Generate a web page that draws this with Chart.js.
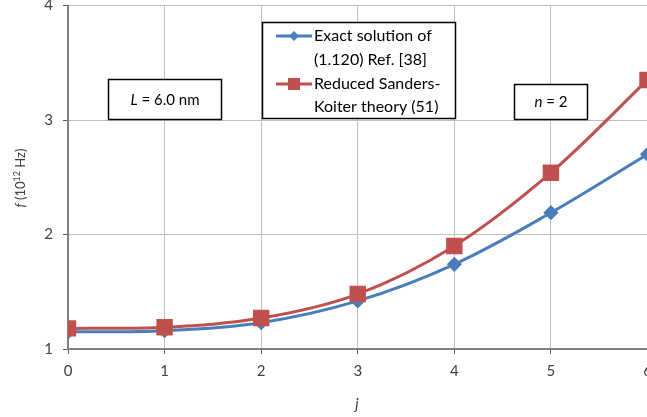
<!DOCTYPE html>
<html>
<head>
<meta charset="utf-8">
<script src="https://cdn.jsdelivr.net/npm/chart.js@4.4.1/dist/chart.umd.min.js"></script>
<style>
html,body{margin:0;padding:0;background:#fff;overflow:hidden;}
#wrap{width:647px;height:417px;position:relative;overflow:hidden;}
#c{position:absolute;left:0;top:-7px;}
</style>
</head>
<body>
<div id="wrap"><canvas id="c" width="660" height="424"></canvas></div>
<script>
const jValues = [0, 1, 2, 3, 4, 5, 6];
const exactSolution = [1.15, 1.16, 1.23, 1.42, 1.74, 2.19, 2.70];
const reducedSK = [1.18, 1.19, 1.27, 1.48, 1.90, 2.54, 3.35];
const seriesLabels = [["Exact solution of", "(1.120) Ref. [38]"], ["Reduced Sanders-", "Koiter theory (51)"]];
const xTicks = [0, 1, 2, 3, 4, 5, 6];
const yTicks = [1, 2, 3, 4];
const boxL = ["L", " = 6.0 nm"];
const boxN = ["n", " = 2"];
const xTitle = "j";
const yTitleParts = ["f", " (10", "12", " Hz)"];

const FONT = "Lato, 'Open Sans', sans-serif";
const BLUE = "#4A7EBB";
const RED = "#C0504D";
const TXT = "#404040";
const OFFY = 7; // canvas is shifted up by this many pixels

const annot = {
  id: 'annot',
  afterDraw(chart) {
    const ctx = chart.ctx;
    ctx.save();
    ctx.translate(0, OFFY);
    function box(x1, y1, x2, y2) {
      ctx.strokeStyle = "#000"; ctx.lineWidth = 1.5;
      ctx.fillStyle = "#fff";
      ctx.fillRect(x1, y1, x2 - x1, y2 - y1);
      ctx.strokeRect(x1, y1, x2 - x1, y2 - y1);
    }
    function mixed(parts, cx, cy, size) {
      ctx.font = "italic " + size + "px " + FONT;
      const w0 = ctx.measureText(parts[0]).width;
      ctx.font = size + "px " + FONT;
      const w1 = ctx.measureText(parts[1]).width;
      let x = cx - (w0 + w1) / 2;
      ctx.fillStyle = "#000"; ctx.textBaseline = "middle"; ctx.textAlign = "left";
      ctx.font = "italic " + size + "px " + FONT;
      ctx.fillText(parts[0], x, cy);
      ctx.font = size + "px " + FONT;
      ctx.fillText(parts[1], x + w0, cy);
    }
    box(108.5, 79.5, 221.5, 119.5);
    mixed(boxL, 165, 100, 15);
    box(514.5, 84.5, 587.5, 119.5);
    mixed(boxN, 551, 102, 15);

    // legend
    box(262.5, 22.5, 455.5, 118.5);
    const ds = chart.data.datasets;
    const rows = [[36, 60], [84, 107]];
    for (let i = 0; i < 2; i++) {
      const d = ds[i];
      const ly = rows[i][0];
      ctx.strokeStyle = d.borderColor; ctx.lineWidth = 3;
      ctx.beginPath(); ctx.moveTo(276, ly); ctx.lineTo(312, ly); ctx.stroke();
      ctx.fillStyle = d.backgroundColor;
      if (d.pointStyle === 'rect') {
        ctx.fillRect(288, ly - 6, 12, 12);
      } else {
        ctx.beginPath();
        ctx.moveTo(294, ly - 5); ctx.lineTo(299, ly); ctx.lineTo(294, ly + 5); ctx.lineTo(289, ly);
        ctx.closePath(); ctx.fill();
      }
      ctx.fillStyle = "#000"; ctx.font = "16px " + FONT;
      ctx.textAlign = "left"; ctx.textBaseline = "middle";
      ctx.fillText(seriesLabels[i][0], 314, rows[i][0]);
      ctx.fillText(seriesLabels[i][1], 314, rows[i][1]);
    }

    // axis titles
    ctx.fillStyle = TXT;
    ctx.font = "italic 15px " + FONT;
    ctx.textAlign = "center"; ctx.textBaseline = "middle";
    ctx.fillText(xTitle, 357, 404);

    ctx.translate(21, 178);
    ctx.rotate(-Math.PI / 2);
    const fs = 13;
    ctx.font = "italic " + fs + "px " + FONT;
    const w0 = ctx.measureText(yTitleParts[0]).width;
    ctx.font = fs + "px " + FONT;
    const w1 = ctx.measureText(yTitleParts[1]).width;
    ctx.font = "9px " + FONT;
    const w2 = ctx.measureText(yTitleParts[2]).width;
    ctx.font = fs + "px " + FONT;
    const w3 = ctx.measureText(yTitleParts[3]).width;
    let x = -(w0 + w1 + w2 + w3) / 2;
    ctx.textAlign = "left"; ctx.textBaseline = "middle";
    ctx.font = "italic " + fs + "px " + FONT; ctx.fillText(yTitleParts[0], x, 0); x += w0;
    ctx.font = fs + "px " + FONT; ctx.fillText(yTitleParts[1], x, 0); x += w1;
    ctx.font = "9px " + FONT; ctx.fillText(yTitleParts[2], x, -4); x += w2;
    ctx.font = fs + "px " + FONT; ctx.fillText(yTitleParts[3], x, 0);
    ctx.restore();
  }
};

new Chart(document.getElementById('c'), {
  type: 'line',
  data: {
    datasets: [
      {
        label: seriesLabels[0].join(' '),
        data: jValues.map((j, i) => ({x: j, y: exactSolution[i]})),
        borderColor: BLUE, backgroundColor: BLUE,
        pointStyle: 'rectRot', pointRadius: 5.5, pointHoverRadius: 5.5,
        borderWidth: 3, tension: 0.35, order: 1
      },
      {
        label: seriesLabels[1].join(' '),
        data: jValues.map((j, i) => ({x: j, y: reducedSK[i]})),
        borderColor: RED, backgroundColor: RED,
        pointStyle: 'rect', pointRadius: 9.5, pointHoverRadius: 9.5,
        borderWidth: 3, tension: 0.35, order: 0
      }
    ]
  },
  options: {
    responsive: false,
    animation: false,
    layout: { padding: { top: 5, right: 0, left: 0, bottom: 0 } },
    plugins: { legend: { display: false }, tooltip: { enabled: false } },
    scales: {
      x: {
        type: 'linear', min: 0, max: 6,
        afterBuildTicks(s) { s.ticks = xTicks.map(v => ({value: v})); },
        afterFit(s) { s.height = 68; s.paddingLeft = 0; s.paddingRight = 0; },
        grid: { color: "#BFBFBF", lineWidth: 1, tickLength: 5, tickColor: "#595959" },
        border: { color: "#7F7F7F", width: 2 },
        ticks: { color: TXT, font: { family: FONT, size: 15 }, padding: 8, maxRotation: 0 }
      },
      y: {
        type: 'linear', min: 1, max: 4,
        afterBuildTicks(s) { s.ticks = yTicks.map(v => ({value: v})); },
        afterFit(s) { s.width = 68; s.paddingTop = 0; s.paddingBottom = 0; },
        grid: { color: "#BFBFBF", lineWidth: 1, tickLength: 5, tickColor: "#595959" },
        border: { color: "#7F7F7F", width: 2 },
        ticks: { color: TXT, font: { family: FONT, size: 15 }, padding: 10 }
      }
    }
  },
  plugins: [annot]
});
</script>
</body>
</html>
